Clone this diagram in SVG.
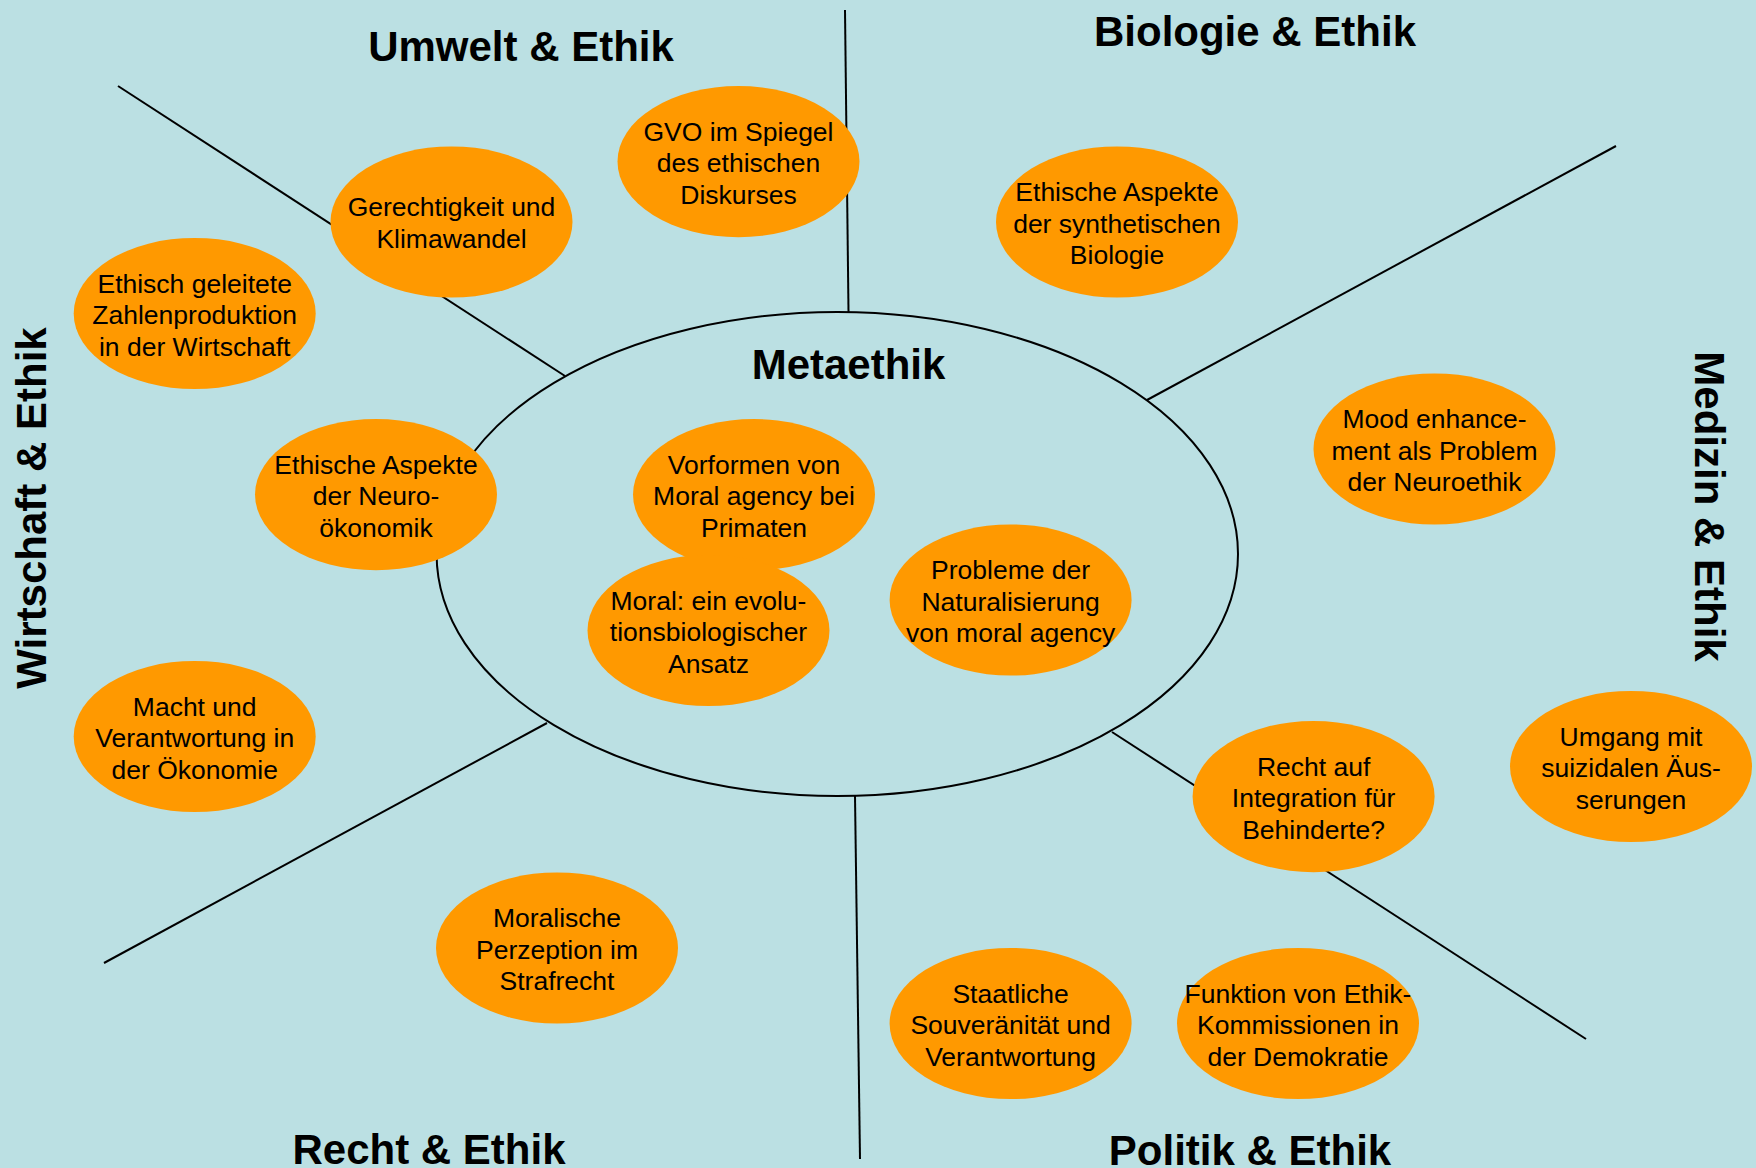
<svg xmlns="http://www.w3.org/2000/svg" width="1756" height="1168" viewBox="0 0 1756 1168">
<style>
.bg{fill:#BBE0E3}
.ln{stroke:#000;stroke-width:2;fill:none}
.nd{fill:#FF9900;stroke:none}
.t{font-family:"Liberation Sans",Arial,sans-serif;font-size:26.5px;fill:#000;text-anchor:middle}
.h{font-family:"Liberation Sans",Arial,sans-serif;font-size:42px;font-weight:bold;fill:#000;text-anchor:middle}
</style>
<rect class="bg" x="0" y="0" width="1756" height="1168"/>
<g id="connectors">
<line class="ln" x1="845" y1="10" x2="848.5" y2="312"/>
<line class="ln" x1="118" y1="86" x2="565" y2="376"/>
<line class="ln" x1="1616" y1="146" x2="1147" y2="400"/>
<line class="ln" x1="547" y1="723" x2="104" y2="963"/>
<line class="ln" x1="855" y1="796" x2="860" y2="1159"/>
<line class="ln" x1="1112" y1="732" x2="1586" y2="1039"/>
</g>
<g id="metaethik">
<ellipse class="ln" cx="837.3" cy="554" rx="400.7" ry="242"/>
<text class="h" x="848.5" y="379">Metaethik</text>
</g>
<g id="titles">
<text class="h" x="521" y="61">Umwelt &amp; Ethik</text>
<text class="h" x="1255" y="46">Biologie &amp; Ethik</text>
<text class="h" x="429" y="1164">Recht &amp; Ethik</text>
<text class="h" x="1250" y="1165">Politik &amp; Ethik</text>
<text class="h" transform="translate(46,508) rotate(-90)" x="0" y="0">Wirtschaft &amp; Ethik</text>
<text class="h" transform="translate(1695,506.5) rotate(90)" x="0" y="0">Medizin &amp; Ethik</text>
</g>
<g id="n1">
<ellipse class="nd" cx="738.5" cy="161.6" rx="121" ry="75.6"/>
<text class="t" x="738.5" y="140.8">GVO im Spiegel</text>
<text class="t" x="738.5" y="172.4">des ethischen</text>
<text class="t" x="738.5" y="204">Diskurses</text>
</g>
<g id="n2">
<ellipse class="nd" cx="451.5" cy="222" rx="121" ry="75.6"/>
<text class="t" x="451.5" y="216.2">Gerechtigkeit und</text>
<text class="t" x="451.5" y="248">Klimawandel</text>
</g>
<g id="n3">
<ellipse class="nd" cx="194.7" cy="313.5" rx="121" ry="75.6"/>
<text class="t" x="194.7" y="292.7">Ethisch geleitete</text>
<text class="t" x="194.7" y="324.3">Zahlenproduktion</text>
<text class="t" x="194.7" y="355.9">in der Wirtschaft</text>
</g>
<g id="n4">
<ellipse class="nd" cx="376" cy="494.6" rx="121" ry="75.6"/>
<text class="t" x="376" y="473.6">Ethische Aspekte</text>
<text class="t" x="376" y="505.2">der Neuro-</text>
<text class="t" x="376" y="536.8">ökonomik</text>
</g>
<g id="n5">
<ellipse class="nd" cx="754" cy="494.6" rx="121" ry="75.6"/>
<text class="t" x="754" y="473.6">Vorformen von</text>
<text class="t" x="754" y="505.2">Moral agency bei</text>
<text class="t" x="754" y="536.8">Primaten</text>
</g>
<g id="n6">
<ellipse class="nd" cx="1117" cy="222" rx="121" ry="75.6"/>
<text class="t" x="1117" y="201">Ethische Aspekte</text>
<text class="t" x="1117" y="232.6">der synthetischen</text>
<text class="t" x="1117" y="264.2">Biologie</text>
</g>
<g id="n7">
<ellipse class="nd" cx="1434.5" cy="449" rx="121" ry="75.6"/>
<text class="t" x="1434.5" y="428">Mood enhance-</text>
<text class="t" x="1434.5" y="459.6">ment als Problem</text>
<text class="t" x="1434.5" y="491.2">der Neuroethik</text>
</g>
<g id="n8">
<ellipse class="nd" cx="1010.6" cy="600" rx="121" ry="75.6"/>
<text class="t" x="1010.6" y="579">Probleme der</text>
<text class="t" x="1010.6" y="610.6">Naturalisierung</text>
<text class="t" x="1010.6" y="642.2">von moral agency</text>
</g>
<g id="n9">
<ellipse class="nd" cx="708.5" cy="630.5" rx="121" ry="75.6"/>
<text class="t" x="708.5" y="609.5">Moral: ein evolu-</text>
<text class="t" x="708.5" y="641.1">tionsbiologischer</text>
<text class="t" x="708.5" y="672.7">Ansatz</text>
</g>
<g id="n10">
<ellipse class="nd" cx="194.7" cy="736.5" rx="121" ry="75.6"/>
<text class="t" x="194.7" y="715.5">Macht und</text>
<text class="t" x="194.7" y="747.1">Verantwortung in</text>
<text class="t" x="194.7" y="778.7">der Ökonomie</text>
</g>
<g id="n11">
<ellipse class="nd" cx="557" cy="948" rx="121" ry="75.6"/>
<text class="t" x="557" y="927">Moralische</text>
<text class="t" x="557" y="958.6">Perzeption im</text>
<text class="t" x="557" y="990.2">Strafrecht</text>
</g>
<g id="n12">
<ellipse class="nd" cx="1313.6" cy="796.6" rx="121" ry="75.6"/>
<text class="t" x="1313.6" y="775.6">Recht auf</text>
<text class="t" x="1313.6" y="807.2">Integration für</text>
<text class="t" x="1313.6" y="838.8">Behinderte?</text>
</g>
<g id="n13">
<ellipse class="nd" cx="1631" cy="766.5" rx="121" ry="75.6"/>
<text class="t" x="1631" y="745.5">Umgang mit</text>
<text class="t" x="1631" y="777.1">suizidalen Äus-</text>
<text class="t" x="1631" y="808.7">serungen</text>
</g>
<g id="n14">
<ellipse class="nd" cx="1010.6" cy="1023.5" rx="121" ry="75.6"/>
<text class="t" x="1010.6" y="1002.5">Staatliche</text>
<text class="t" x="1010.6" y="1034.1">Souveränität und</text>
<text class="t" x="1010.6" y="1065.7">Verantwortung</text>
</g>
<g id="n15">
<ellipse class="nd" cx="1298" cy="1023.5" rx="121" ry="75.6"/>
<text class="t" x="1298" y="1002.5">Funktion von Ethik-</text>
<text class="t" x="1298" y="1034.1">Kommissionen in</text>
<text class="t" x="1298" y="1065.7">der Demokratie</text>
</g>
</svg>
